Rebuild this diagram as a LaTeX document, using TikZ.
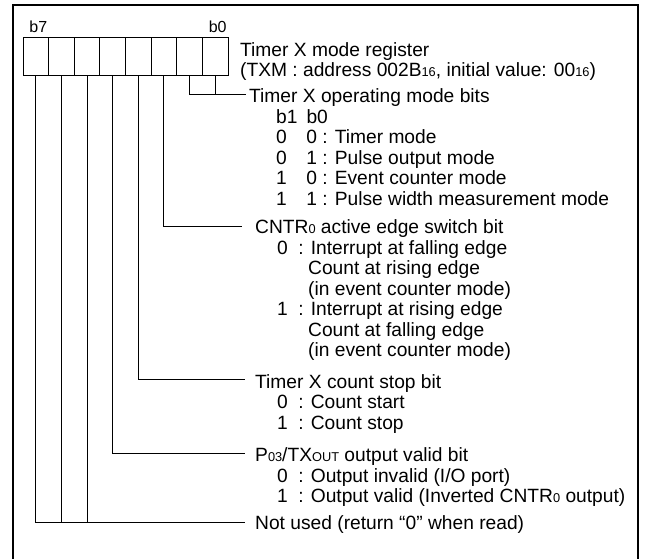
\documentclass[tikz,border=0pt]{standalone}
\usepackage{fontspec}
\setmainfont{Liberation Sans}
\usetikzlibrary{positioning,calc}
\newcommand{\chico}[1]{{\fontsize{12.8}{12.8}\selectfont #1}}
\tikzset{
  celda/.style={rectangle, draw, line width=0.9pt, minimum width=25.625pt,
    minimum height=38pt, inner sep=0pt},
  guia/.style={line width=0.9pt},
  marco/.style={line width=1.5pt},
  desc/.style={inner sep=0pt, anchor=base west, font=\fontsize{19.2}{20.5}\selectfont},
  bitetq/.style={inner sep=0pt, anchor=base, font=\fontsize{16}{16}\selectfont},
}

\begin{document}
\begin{tikzpicture}[x=1pt, y=-1pt]
  \useasboundingbox (0,0) rectangle (645,559);
  \draw[marco] (13,559) -- (13,5) -- (638,5) -- (638,559);
  % registro TXM
  \foreach \b in {0,...,7}
    \node[celda] (c\b) at ({228-12.8125-25.625*\b},56) {};
  \node[bitetq] (t7) at ($(c7.north)+(2.5,-4)$) {b7};
  \node[bitetq] (t0) at ($(c0.north)+(2.5,-4)$) {b0};
  \node[desc] (reg) at (240,56.5) {\begin{tabular}[t]{@{}l@{}}
    Timer X mode register\\
    (TXM : address 002B\chico{16}, initial value: 00\chico{16})\end{tabular}};
  % lineas guia
  \coordinate (e0) at (246,94);
  \coordinate (e2) at (242,226);
  \coordinate (e3) at (245,379.5);
  \coordinate (e4) at (245,453);
  \coordinate (e5) at (245,522.5);
  \draw[guia] (c1.south) |- (e0);
  \draw[guia] (c0.south) -- (c0.south |- e0);
  \draw[guia] (c2.south) |- (e2);
  \draw[guia] (c3.south) |- (e3);
  \draw[guia] (c4.south) |- (e4);
  \draw[guia] (c7.south) |- (e5);
  \draw[guia] (c6.south) -- (c6.south |- e5);
  \draw[guia] (c5.south) -- (c5.south |- e5);
  % descripciones
  \node[desc] (modo) at ($(e0)+(3,8.7)$) {\begin{tabular}[t]{@{}l@{}}
    Timer X operating mode bits\\
    \hspace{27pt}b1\hspace{9pt}b0\\
    \hspace{27pt}0\hspace{19.5pt}0 : Timer mode\\
    \hspace{27pt}0\hspace{19.5pt}1 : Pulse output mode\\
    \hspace{27pt}1\hspace{19.5pt}0 : Event counter mode\\
    \hspace{27pt}1\hspace{19.5pt}1 : Pulse width measurement mode\end{tabular}};
  \node[desc] (flanco) at ($(e2)+(13,7.7)$) {\begin{tabular}[t]{@{}l@{}}
    CNTR\chico{0} active edge switch bit\\
    \hspace{22pt}0\hspace{10.5pt}: Interrupt at falling edge\\
    \hspace{53pt}Count at rising edge\\
    \hspace{53pt}(in event counter mode)\\
    \hspace{22pt}1\hspace{10.5pt}: Interrupt at rising edge\\
    \hspace{53pt}Count at falling edge\\
    \hspace{53pt}(in event counter mode)\end{tabular}};
  \node[desc] (parada) at ($(e3)+(10,8.7)$) {\begin{tabular}[t]{@{}l@{}}
    Timer X count stop bit\\
    \hspace{22pt}0\hspace{10.5pt}: Count start\\
    \hspace{22pt}1\hspace{10.5pt}: Count stop\end{tabular}};
  \node[desc] (salida) at ($(e4)+(10,8.7)$) {\begin{tabular}[t]{@{}l@{}}
    P\chico{03}/TX\chico{OUT} output valid bit\\
    \hspace{22pt}0\hspace{10.5pt}: Output invalid (I/O port)\\
    \hspace{22pt}1\hspace{10.5pt}: Output valid (Inverted CNTR\chico{0} output)\end{tabular}};
  \node[desc] (nousado) at ($(e5)+(10,6.5)$) {Not used (return “0” when read)};
\end{tikzpicture}
\end{document}
